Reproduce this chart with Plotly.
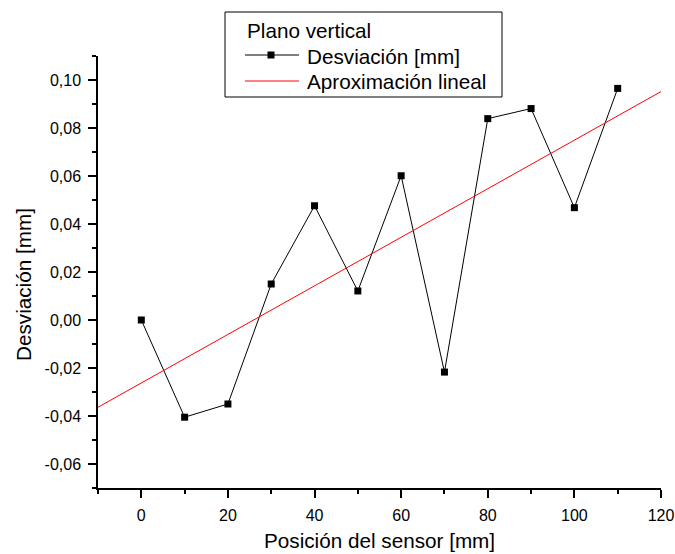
import numpy as np
import plotly.graph_objects as go

# Sensor position [mm] and measured deviation [mm] in the vertical plane
posicion = [0, 10, 20, 30, 40, 50, 60, 70, 80, 90, 100, 110]
desviacion = [0.000, -0.0405, -0.035, 0.015, 0.0476, 0.0121,
              0.0601, -0.0217, 0.0839, 0.0881, 0.0468, 0.0965]

x_ticks = [0, 20, 40, 60, 80, 100, 120]
y_ticks = [-0.06, -0.04, -0.02, 0.00, 0.02, 0.04, 0.06, 0.08, 0.10]
y_ticktext = ["-0,06", "-0,04", "-0,02", "0,00", "0,02", "0,04", "0,06", "0,08", "0,10"]

x_range = [-10, 120]
y_range = [-0.07, 0.11]

legend_title = "Plano vertical"
serie_nombre = "Desviación [mm]"
ajuste_nombre = "Aproximación lineal"

# Least-squares linear fit of the measurements, drawn across the full x range
pendiente, ordenada = np.polyfit(posicion, desviacion, 1)
x_fit = np.array(x_range, dtype=float)
y_fit = pendiente * x_fit + ordenada

FONT = "Liberation Sans, Arial, sans-serif"
W, H = 675, 554
ML, MR, MT, MB = 98, 14, 56, 66


def px(xp):
    """Horizontal pixel -> paper coordinate."""
    return (xp - ML) / (W - ML - MR)


def py(yp):
    """Vertical pixel (from top) -> paper coordinate."""
    return (H - MB - yp) / (H - MT - MB)


fig = go.Figure()
fig.add_trace(go.Scatter(
    x=posicion, y=desviacion, mode="lines+markers",
    name=serie_nombre,
    line=dict(color="black", width=1),
    marker=dict(symbol="square", size=7, color="black"),
))
fig.add_trace(go.Scatter(
    x=x_fit, y=y_fit, mode="lines",
    name=ajuste_nombre,
    line=dict(color="red", width=1),
))

axis_common = dict(
    showline=True, linecolor="black", linewidth=1.5,
    showgrid=False, zeroline=False, mirror=False, automargin=False,
    ticks="outside", tickcolor="black", tickwidth=1.5, ticklen=8,
    tickfont=dict(family=FONT, size=16, color="black"),
)

fig.update_xaxes(
    range=x_range, tickvals=x_ticks, ticklabelstandoff=4,
    minor=dict(ticks="outside", ticklen=4, tickwidth=1.5, tickcolor="black", dtick=10, tick0=0),
    **axis_common,
)
fig.update_yaxes(
    range=y_range, tickvals=y_ticks, ticktext=y_ticktext, ticklabelstandoff=4,
    minor=dict(ticks="outside", ticklen=4, tickwidth=1.5, tickcolor="black", dtick=0.01, tick0=0),
    **axis_common,
)

title_font = dict(family=FONT, size=20.7, color="black")
annotations = [
    # axis titles
    dict(text="Posición del sensor [mm]", x=px(379), y=py(540), xref="paper", yref="paper",
         xanchor="center", yanchor="middle", showarrow=False, font=title_font),
    dict(text="Desviación [mm]", x=px(23), y=py(285), xref="paper", yref="paper",
         xanchor="center", yanchor="middle", textangle=-90, showarrow=False, font=title_font),
    # legend texts
    dict(text=legend_title, x=px(245), y=py(31), xref="paper", yref="paper",
         xanchor="left", yanchor="middle", showarrow=False, font=title_font),
    dict(text=serie_nombre, x=px(305), y=py(57), xref="paper", yref="paper",
         xanchor="left", yanchor="middle", showarrow=False, font=title_font),
    dict(text=ajuste_nombre, x=px(305), y=py(81), xref="paper", yref="paper",
         xanchor="left", yanchor="middle", showarrow=False, font=title_font),
]

shapes = [
    # legend frame
    dict(type="rect", xref="paper", yref="paper", x0=px(225), x1=px(502), y0=py(97), y1=py(12),
         line=dict(color="black", width=1), fillcolor="white", layer="above"),
    # legend samples
    dict(type="line", xref="paper", yref="paper", x0=px(245), x1=px(299), y0=py(55), y1=py(55),
         line=dict(color="black", width=1), layer="above"),
    dict(type="rect", xref="paper", yref="paper", x0=px(267.5), x1=px(274.5), y0=py(58.5), y1=py(51.5),
         line=dict(width=0), fillcolor="black", layer="above"),
    dict(type="line", xref="paper", yref="paper", x0=px(245), x1=px(299), y0=py(81), y1=py(81),
         line=dict(color="red", width=1), layer="above"),
]

fig.update_layout(
    width=W, height=H,
    margin=dict(l=ML, r=MR, t=MT, b=MB),
    plot_bgcolor="white", paper_bgcolor="white",
    font=dict(family=FONT, color="black"),
    showlegend=False,
    annotations=annotations,
    shapes=shapes,
)

fig.write_html("out.html")
